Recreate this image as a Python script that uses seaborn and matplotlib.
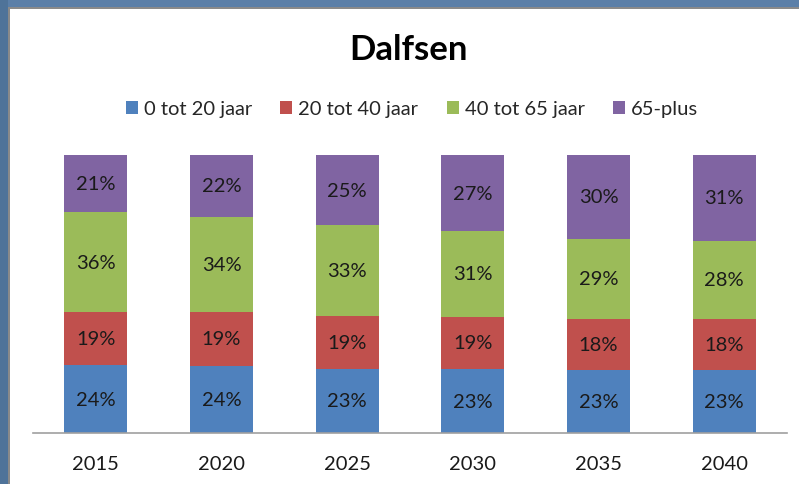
import matplotlib
matplotlib.use("Agg")
import matplotlib.pyplot as plt
from matplotlib.patches import Patch, Rectangle
import numpy as np
import pandas as pd
import seaborn as sns

# share of population per age group (percent), Dalfsen
years = ["2015", "2020", "2025", "2030", "2035", "2040"]
groups = ["0 tot 20 jaar", "20 tot 40 jaar", "40 tot 65 jaar", "65-plus"]
age_0_20 = [24.4, 24.2, 23.1, 23.0, 22.6, 22.7]
age_20_40 = [19.2, 19.3, 19.0, 18.8, 18.4, 18.3]
age_40_65 = [35.8, 34.3, 32.7, 30.8, 28.9, 28.2]
age_65_plus = [20.6, 22.2, 25.2, 27.4, 30.1, 30.8]
colors = ["#4F81BD", "#C0504D", "#9BBB59", "#8064A2"]

df = pd.DataFrame({"jaar": years,
                   groups[0]: age_0_20,
                   groups[1]: age_20_40,
                   groups[2]: age_40_65,
                   groups[3]: age_65_plus})

sns.set_theme(style="white")
plt.rcParams["font.family"] = ["Lato", "DejaVu Sans"]

W, H = 799, 485
fig = plt.figure(figsize=(W / 100, H / 100), dpi=100)
fig.patch.set_facecolor("white")

# window frame (blue bands with gray inner edge) top and left
fig.patches.append(Rectangle((0, 1 - 8 / H), 1, 8 / H, transform=fig.transFigure,
                             facecolor="#5B7FA8", edgecolor="none", zorder=0))
fig.patches.append(Rectangle((0, 0), 8 / W, 1, transform=fig.transFigure,
                             facecolor="#4F7399", edgecolor="none", zorder=0))
fig.patches.append(Rectangle((8 / W, 0), 2 / W, 1 - 8 / H, transform=fig.transFigure,
                             facecolor="#8A8A8A", edgecolor="none", zorder=0))
fig.patches.append(Rectangle((8 / W, 1 - 10 / H), 1, 2 / H, transform=fig.transFigure,
                             facecolor="#8A8A8A", edgecolor="none", zorder=0))

ax = fig.add_axes([33 / W, 1 - 434 / H, (787 - 33) / W, (434 - 156) / H])

bottom = np.zeros(len(years))
for g, c in zip(groups, colors):
    vals = df[g].to_numpy()
    sns.barplot(x=df["jaar"], y=vals, bottom=bottom, color=c, width=0.5,
                saturation=1, ax=ax, linewidth=0)
    cont = ax.containers[-1]
    ax.bar_label(cont, labels=[f"{v:.0f}%" for v in vals], label_type="center",
                 fontsize=14.5, color="#1a1a1a")
    bottom += vals

ax.set_ylim(0, 100)
ax.set_xlim(-0.5, len(years) - 0.5)
ax.set_xlabel("")
ax.set_ylabel("")
ax.set_yticks([])
for s in ["top", "right", "left"]:
    ax.spines[s].set_visible(False)
ax.spines["bottom"].set_color("#A0A0A0")
ax.spines["bottom"].set_linewidth(1.2)
ax.tick_params(axis="x", length=0, pad=16, labelsize=14.5, labelcolor="#1a1a1a")
ax.set_facecolor("white")

fig.text(409 / W, 1 - 50 / H, "Dalfsen", ha="center", va="center",
         fontsize=25, fontweight="bold", color="black")

handles = [Patch(facecolor=c, edgecolor="none") for c in colors]
fig.legend(handles, groups, loc="center", bbox_to_anchor=(412 / W, 1 - 110 / H),
           ncol=4, frameon=False, fontsize=14.5, handlelength=0.6, handleheight=0.6,
           handletextpad=0.3, columnspacing=1.4)

fig.savefig("out.png", dpi=100, facecolor="white")
